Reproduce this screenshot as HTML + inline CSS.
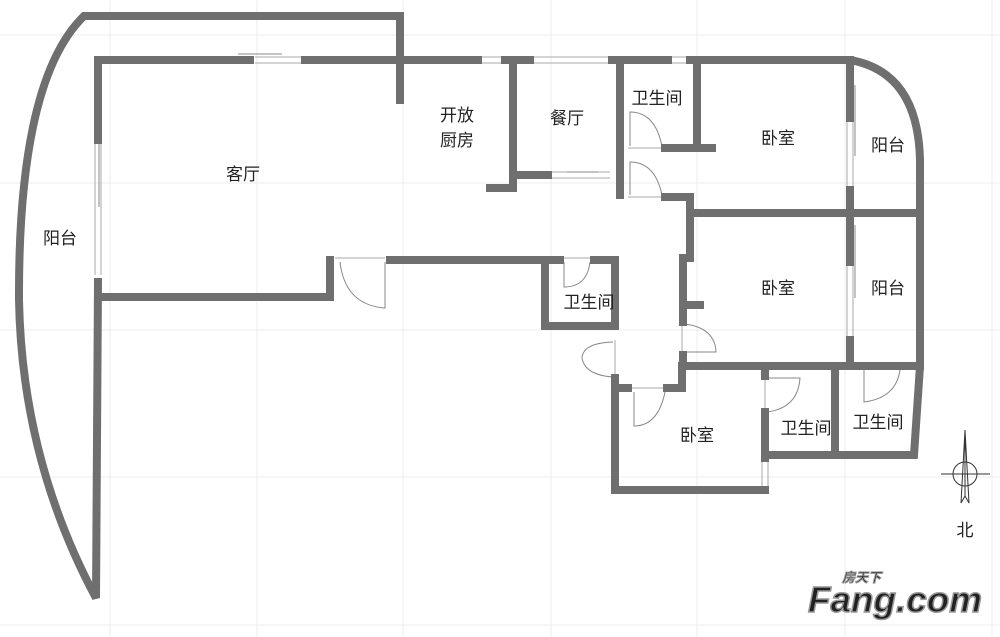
<!DOCTYPE html>
<html><head><meta charset="utf-8"><style>
body{margin:0;background:#fff;width:1000px;height:637px;overflow:hidden}
svg{display:block}
text{font-family:"Liberation Sans","Noto Sans CJK SC",sans-serif;fill:#222}
</style></head><body>
<svg width="1000" height="637" viewBox="0 0 1000 637" xmlns="http://www.w3.org/2000/svg">
<g stroke="#ececec" stroke-width="1">
<line x1="110" y1="0" x2="110" y2="637"/><line x1="257" y1="0" x2="257" y2="637"/><line x1="403" y1="0" x2="403" y2="637"/><line x1="551" y1="0" x2="551" y2="637"/><line x1="697" y1="0" x2="697" y2="637"/><line x1="845" y1="0" x2="845" y2="637"/><line x1="992" y1="0" x2="992" y2="637"/>
<line x1="0" y1="35" x2="1000" y2="35"/><line x1="0" y1="183" x2="1000" y2="183"/><line x1="0" y1="330" x2="1000" y2="330"/><line x1="0" y1="477" x2="1000" y2="477"/><line x1="0" y1="625" x2="1000" y2="625"/>
</g>
<g stroke="#aaa" stroke-width="1" fill="none">
<line x1="255" y1="57" x2="305" y2="57"/><line x1="255" y1="63" x2="305" y2="63"/>
<line x1="478" y1="57" x2="505" y2="57"/><line x1="478" y1="63" x2="505" y2="63"/>
<line x1="530" y1="57" x2="612" y2="57"/><line x1="530" y1="63" x2="612" y2="63"/>
<line x1="668" y1="57" x2="690" y2="57"/><line x1="668" y1="63" x2="690" y2="63"/>
<line x1="95" y1="140" x2="95" y2="275"/><line x1="101" y1="140" x2="101" y2="275"/>
<line x1="550" y1="172" x2="610" y2="172"/><line x1="550" y1="178" x2="610" y2="178"/>
<line x1="847" y1="118" x2="847" y2="190"/><line x1="853" y1="118" x2="853" y2="190"/>
<line x1="847" y1="262" x2="847" y2="340"/><line x1="853" y1="262" x2="853" y2="340"/>
<line x1="762" y1="460" x2="762" y2="490"/><line x1="768" y1="460" x2="768" y2="490"/>
<line x1="335" y1="258" x2="385" y2="258"/><line x1="562" y1="258" x2="592" y2="258"/>
<line x1="615" y1="340" x2="615" y2="378"/><line x1="628" y1="148" x2="665" y2="148"/><line x1="628" y1="197" x2="665" y2="197"/>
<line x1="682" y1="322" x2="682" y2="355"/><line x1="628" y1="388" x2="665" y2="388"/><line x1="765" y1="378" x2="765" y2="412"/><line x1="862" y1="366" x2="905" y2="366"/>
</g>
<g stroke="#888" stroke-width="1" fill="none">
<path d="M340 262 Q345 305 385 308 L385 262"/>
<path d="M564 262 L564 287 Q587 287 590 262"/>
<path d="M613 342 Q583 343 582 358 Q585 375 613 377"/>
<path d="M630 146 L630 112 Q655 112 662 146"/>
<path d="M630 195 L630 162 Q655 162 662 195"/>
<path d="M685 324 Q715 328 716 352 L685 352"/>
<path d="M634 392 L634 426 Q658 426 665 392"/>
<path d="M767 378 L800 378 Q798 408 767 412"/>
<path d="M864 370 L864 402 Q896 398 900 370"/>
<line x1="567" y1="172" x2="598" y2="172"/>
<line x1="238" y1="54" x2="282" y2="54"/>
<line x1="99" y1="75" x2="99" y2="207"/>
<line x1="855" y1="85" x2="855" y2="156"/>
<line x1="855" y1="225" x2="855" y2="298"/>
</g>
<g stroke="#6f6f6f" stroke-width="8" fill="none" stroke-linecap="square" stroke-linejoin="miter">
<path d="M400 100 L400 16 L84 16 Q18 80 19 300 Q22 460 96 598 L98 282"/>
<path d="M98 140 L98 60 L250 60"/><path d="M305 60 L478 60"/><path d="M505 60 L530 60"/><path d="M612 60 L668 60"/><path d="M690 60 L850 60 Q918 72 920 160 L920 366 L914 455 L765 455"/>
<path d="M98 297 L330 297 L330 260"/><path d="M390 260 L560 260"/>
<path d="M545 260 L545 326 L615 326 L615 260 L594 260"/>
<path d="M615 378 L615 490 L765 490"/><path d="M620 388 L628 388"/><path d="M667 388 L682 388 L682 366 L920 366"/>
<path d="M765 412 L765 458"/><path d="M765 366 L765 376"/><path d="M835 366 L835 455"/>
<path d="M490 188 L513 188 L513 60"/><path d="M513 175 L548 175"/><path d="M620 60 L620 195"/><path d="M665 148 L712 148"/><path d="M697 60 L697 148"/>
<path d="M665 197 L690 197 L690 258 L683 258 L683 322"/><path d="M683 305 L700 305"/><path d="M690 213 L920 213"/>
<path d="M850 60 L850 118"/><path d="M850 190 L850 262"/><path d="M850 340 L850 366"/>
<path d="M683 355 L683 366"/>
</g>
<g font-size="17" text-anchor="middle">
<text x="243" y="180">客厅</text>
<text x="60" y="244">阳台</text>
<text x="457" y="121">开放</text><text x="457" y="146">厨房</text>
<text x="567" y="124">餐厅</text>
<text x="657" y="104">卫生间</text>
<text x="778" y="144">卧室</text>
<text x="888" y="151">阳台</text>
<text x="778" y="294">卧室</text>
<text x="888" y="294">阳台</text>
<text x="589" y="308">卫生间</text>
<text x="697" y="441">卧室</text>
<text x="806" y="434">卫生间</text>
<text x="878" y="428">卫生间</text>
<text x="965" y="536">北</text>
</g>
<g stroke="#333" stroke-width="1" fill="none">
<circle cx="965" cy="474" r="12"/>
<line x1="941" y1="474" x2="990" y2="474"/>
<path d="M965 430 L961 503 L965 496 L969 503 Z"/>
<line x1="965" y1="430" x2="965" y2="496"/>
</g>
<g font-family="Liberation Sans,sans-serif" font-weight="bold" font-style="italic">
<text x="808" y="612" font-size="36" fill="#fff" stroke="#999" stroke-width="1.5" textLength="174" lengthAdjust="spacingAndGlyphs">Fang.com</text>
<text x="842" y="582" font-size="13" fill="#fff" stroke="#999" stroke-width="1">房天下</text>
</g>
</svg>
</body></html>
